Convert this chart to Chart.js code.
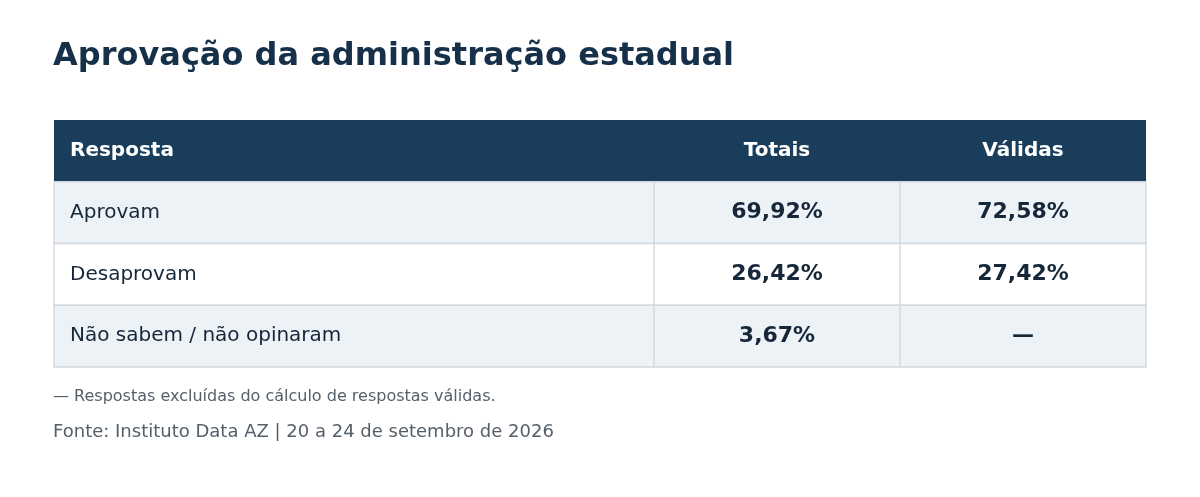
<!DOCTYPE html>
<html>
<head>
<meta charset="utf-8">
<script src="https://cdn.jsdelivr.net/npm/chart.js@4"></script>
<style>
  body { margin: 0; background: #fff; }
  #wrap { width: 1200px; height: 497px; }
</style>
</head>
<body>
<div id="wrap"><canvas id="tabela" width="1200" height="497"></canvas></div>
<script>
const title = "Aprovação da administração estadual";
const headers = ["Resposta", "Totais", "Válidas"];
const respostas = ["Aprovam", "Desaprovam", "Não sabem / não opinaram"];
const totais = ["69,92%", "26,42%", "3,67%"];
const validas = ["72,58%", "27,42%", "—"];
const nota = "— Respostas excluídas do cálculo de respostas válidas.";
const fonte = "Fonte: Instituto Data AZ | 20 a 24 de setembro de 2026";

// column edges in x-scale units (table is 1092 wide)
const colEdges = [0, 600, 846, 1092];
const FONT = "'DejaVu Sans', sans-serif";

const tablePlugin = {
    id: 'tablePlugin',
    afterDraw(chart) {
        const ctx = chart.ctx;
        const x = chart.scales.x, y = chart.scales.y;
        const rows = [headers].concat(respostas.map((r, i) => [r, totais[i], validas[i]]));
        ctx.save();

        // title
        ctx.fillStyle = '#16304a';
        ctx.font = 'bold 32px ' + FONT;
        ctx.textBaseline = 'middle';
        ctx.textAlign = 'left';
        ctx.fillText(title, 53, 57);

        rows.forEach((row, r) => {
            const top = y.getPixelForValue(r), bottom = y.getPixelForValue(r + 1);
            const left = x.getPixelForValue(colEdges[0]), right = x.getPixelForValue(colEdges[3]);
            ctx.fillStyle = r === 0 ? '#1a3d5c' : (r % 2 === 1 ? '#edf2f7' : '#ffffff');
            ctx.fillRect(left, top, right - left, bottom - top);
            const mid = (top + bottom) / 2;
            row.forEach((txt, c) => {
                const cl = x.getPixelForValue(colEdges[c]), cr = x.getPixelForValue(colEdges[c + 1]);
                if (r === 0) {
                    ctx.fillStyle = '#ffffff';
                    ctx.font = 'bold 20px ' + FONT;
                } else {
                    ctx.fillStyle = '#16273a';
                    ctx.font = (c === 0 ? '' : 'bold ') + (c === 0 ? '20px ' : '22px ') + FONT;
                }
                if (c === 0) {
                    ctx.textAlign = 'left';
                    ctx.fillText(txt, cl + 16, mid);
                } else {
                    ctx.textAlign = 'center';
                    ctx.fillText(txt, (cl + cr) / 2, mid);
                }
            });
            if (r > 0) {
                ctx.strokeStyle = '#d5d9de';
                ctx.lineWidth = 1.5;
                ctx.strokeRect(left, top, right - left, bottom - top);
                [1, 2].forEach(c => {
                    const px = x.getPixelForValue(colEdges[c]);
                    ctx.beginPath();
                    ctx.moveTo(px, top);
                    ctx.lineTo(px, bottom);
                    ctx.stroke();
                });
            }
        });

        ctx.textAlign = 'left';
        ctx.fillStyle = '#55606b';
        ctx.font = '16px ' + FONT;
        ctx.fillText(nota, 53, 397);
        ctx.font = '18px ' + FONT;
        ctx.fillText(fonte, 53, 432);
        ctx.restore();
    }
};

new Chart(document.getElementById('tabela'), {
    type: 'scatter',
    data: { datasets: [{ data: [] }] },
    options: {
        responsive: false,
        animation: false,
        layout: { padding: { left: 54, right: 54, top: 120, bottom: 130 } },
        plugins: { legend: { display: false }, tooltip: { enabled: false } },
        scales: {
            x: { type: 'linear', min: colEdges[0], max: colEdges[3], display: false },
            y: { type: 'linear', min: 0, max: respostas.length + 1, reverse: true, display: false }
        }
    },
    plugins: [tablePlugin]
});
</script>
</body>
</html>
